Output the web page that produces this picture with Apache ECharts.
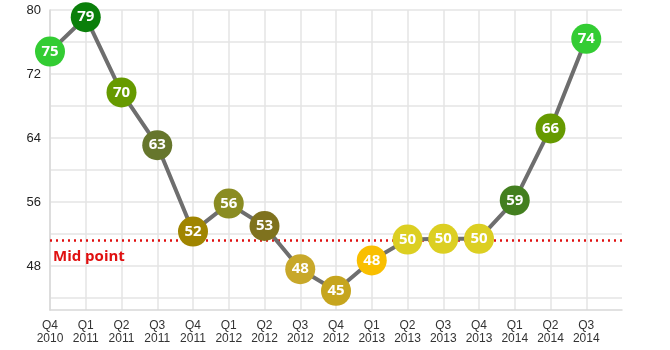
<!DOCTYPE html>
<html>
<head>
<meta charset="utf-8">
<script src="https://cdn.jsdelivr.net/npm/echarts@6/dist/echarts.min.js"></script>
<style>html,body{margin:0;padding:0;background:#fff}#c{width:670px;height:350px}</style>
</head>
<body>
<div id="c"></div>
<script>
const categories = ['Q4\n2010','Q1\n2011','Q2\n2011','Q3\n2011','Q4\n2011','Q1\n2012','Q2\n2012','Q3\n2012','Q4\n2012','Q1\n2013','Q2\n2013','Q3\n2013','Q4\n2013','Q1\n2014','Q2\n2014','Q3\n2014'];
const values = [74.8, 79.1, 69.7, 63.1, 52.3, 55.8, 53.0, 47.6, 44.9, 48.7, 51.3, 51.4, 51.4, 56.2, 65.2, 76.4];
const pointLabels = ['75','79','70','63','52','56','53','48','45','48','50','50','50','59','66','74'];
const pointColors = ['#33cc33','#0a7f0a','#669a00','#66762c','#a08500','#8a8c22','#7f721e','#c8a82a','#c6a51e','#f9bf00','#dccf22','#dccf22','#dccf22','#437f1f','#669a00','#33cc33'];
const midPoint = 51.2;
const yTicks = [44,48,52,56,60,64,68,72,76,80];
const yLabels = [48,56,64,72,80];

const chart = echarts.init(document.getElementById('c'), null, {renderer:'canvas'});
chart.setOption({
  animation:false,
  grid:{left:50, right:48, top:10, bottom:40, containLabel:false},
  xAxis:{
    type:'category', boundaryGap:false, data: categories.concat(['']),
    axisLine:{lineStyle:{color:'#d8d8d8', width:1.5}},
    axisTick:{show:false},
    axisLabel:{color:'#333', fontSize:12, fontFamily:'Liberation Sans, Arial', lineHeight:13, margin:9, interval:0},
    splitLine:{show:true, interval:(i,v)=>v!=='', lineStyle:{color:'#e4e4e4', width:1.5}}
  },
  yAxis:{
    type:'value', min:42.5, max:80,
    axisLine:{show:true, lineStyle:{color:'#d8d8d8', width:1.5}},
    axisTick:{show:false, customValues:yTicks},
    axisLabel:{customValues:yLabels, color:'#222', fontSize:13, fontFamily:'Liberation Sans, Arial', margin:9},
    splitLine:{show:true, lineStyle:{color:'#e4e4e4', width:1.5}}
  },
  series:[{
    type:'line', data:[], z:1,
    markLine:{
      silent:true, symbol:'none', z:1,
      lineStyle:{color:'#e01010', type:[2,4], width:2.5},
      label:{show:true, position:'insideStartBottom', formatter:'Mid point', color:'#e01010', fontWeight:'bold', fontSize:15, fontFamily:'Open Sans, Lato, sans-serif', distance:[3,9]},
      data:[{yAxis:midPoint}]
    }
  },{
    type:'line',
    data: values.map((v,i)=>({value:v, itemStyle:{color:pointColors[i]}})),
    symbol:'circle', symbolSize:30,
    lineStyle:{color:'#6e6e6e', width:4},
    label:{show:true, position:'inside', color:'#fff', fontWeight:'bold', fontSize:15, fontFamily:'Open Sans, Lato, sans-serif',
      formatter:(p)=>pointLabels[p.dataIndex]},
    z:5
  }]
});
</script>
</body>
</html>
